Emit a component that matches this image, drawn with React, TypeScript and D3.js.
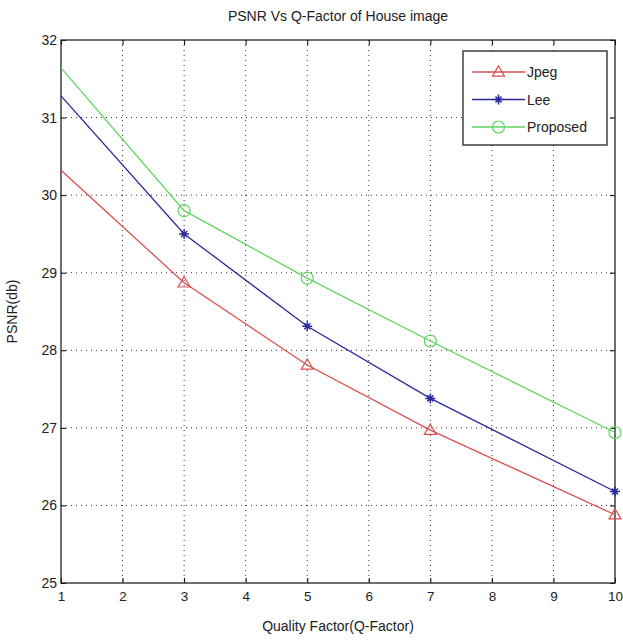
import * as d3 from "d3";
import React, { useRef, useEffect } from "react";

const qFactor = [1, 3, 5, 7, 10];
const jpeg = [30.32, 28.87, 27.81, 26.97, 25.88];
const lee = [31.28, 29.5, 28.31, 27.38, 26.18];
const proposed = [31.64, 29.8, 28.93, 28.12, 26.94];
const seriesNames = ["Jpeg", "Lee", "Proposed"];
const xTicks = [1, 2, 3, 4, 5, 6, 7, 8, 9, 10];
const yTicks = [25, 26, 27, 28, 29, 30, 31, 32];

const colors = ["#d9504f", "#2a2a9a", "#5fd65f"];
const font = "'Liberation Sans', Arial, sans-serif";

export default function App() {
  const ref = useRef(null);
  const width = 623;
  const height = 641;
  const margin = { left: 61, right: 8, top: 40, bottom: 58 };

  useEffect(() => {
    const svg = d3.select(ref.current);
    svg.selectAll("*").remove();

    const x = d3
      .scaleLinear()
      .domain([1, 10])
      .range([margin.left, width - margin.right]);
    const y = d3
      .scaleLinear()
      .domain([25, 32])
      .range([height - margin.bottom, margin.top]);

    const x0 = x.range()[0];
    const x1 = x.range()[1];
    const y0 = y.range()[0];
    const y1 = y.range()[1];

    svg.append("rect").attr("width", width).attr("height", height).attr("fill", "#fff");

    // grid
    const grid = svg.append("g").attr("stroke", "#333").attr("stroke-width", 1).attr("stroke-dasharray", "1,4");
    xTicks.slice(1, -1).forEach((t) => {
      grid.append("line").attr("x1", x(t)).attr("x2", x(t)).attr("y1", y1).attr("y2", y0);
    });
    yTicks.slice(1, -1).forEach((t) => {
      grid.append("line").attr("x1", x0).attr("x2", x1).attr("y1", y(t)).attr("y2", y(t));
    });

    // axes with inward ticks
    const tickLen = 5;
    svg
      .append("g")
      .attr("transform", `translate(0,${y0})`)
      .call(d3.axisBottom(x).tickValues(xTicks).tickFormat(d3.format("d")).tickSizeInner(-tickLen).tickSizeOuter(0).tickPadding(8))
      .call((g) => g.select(".domain").remove())
      .call((g) => g.selectAll("text").attr("font-size", 13.5).attr("font-family", font).attr("fill", "#222"));
    svg
      .append("g")
      .attr("transform", `translate(0,${y1})`)
      .call(d3.axisTop(x).tickValues(xTicks).tickSizeInner(-tickLen).tickSizeOuter(0).tickFormat(() => ""))
      .call((g) => g.select(".domain").remove());
    svg
      .append("g")
      .attr("transform", `translate(${x0},0)`)
      .call(d3.axisLeft(y).tickValues(yTicks).tickFormat(d3.format("d")).tickSizeInner(-tickLen).tickSizeOuter(0).tickPadding(4))
      .call((g) => g.select(".domain").remove())
      .call((g) => g.selectAll("text").attr("font-size", 14).attr("font-family", font).attr("fill", "#222"));
    svg
      .append("g")
      .attr("transform", `translate(${x1},0)`)
      .call(d3.axisRight(y).tickValues(yTicks).tickSizeInner(-tickLen).tickSizeOuter(0).tickFormat(() => ""))
      .call((g) => g.select(".domain").remove());

    svg
      .append("rect")
      .attr("x", x0)
      .attr("y", y1)
      .attr("width", x1 - x0)
      .attr("height", y0 - y1)
      .attr("fill", "none")
      .attr("stroke", "#222")
      .attr("stroke-width", 1.3);

    // lines
    const data = [jpeg, lee, proposed];
    const line = d3
      .line<number>()
      .x((d, i) => x(qFactor[i]))
      .y((d) => y(d));

    const drawMarker = (g, kind, cx, cy, color) => {
      if (kind === 0) {
        const s = 6;
        g.append("path")
          .attr("d", `M${cx},${cy - s}L${cx + s},${cy + s * 0.7}L${cx - s},${cy + s * 0.7}Z`)
          .attr("fill", "none")
          .attr("stroke", color)
          .attr("stroke-width", 1.2);
      } else if (kind === 1) {
        g.append("path")
          .attr("d", `M${cx - 5},${cy}L${cx + 5},${cy}M${cx},${cy - 5}L${cx},${cy + 5}M${cx - 3},${cy - 3}L${cx + 3},${cy + 3}M${cx - 3},${cy + 3}L${cx + 3},${cy - 3}`)
          .attr("stroke", color)
          .attr("stroke-width", 1.5);
      } else {
        g.append("circle")
          .attr("cx", cx)
          .attr("cy", cy)
          .attr("r", 6)
          .attr("fill", "none")
          .attr("stroke", color)
          .attr("stroke-width", 1.2);
      }
    };

    data.forEach((vals, k) => {
      svg
        .append("path")
        .datum(vals)
        .attr("d", line)
        .attr("fill", "none")
        .attr("stroke", colors[k])
        .attr("stroke-width", 1.3);
      const mg = svg.append("g");
      vals.forEach((v, i) => {
        if (i === 0) return;
        drawMarker(mg, k, x(qFactor[i]), y(v), colors[k]);
      });
    });

    // legend
    const lg = svg.append("g");
    const lx = 463;
    const ly = 51;
    lg.append("rect")
      .attr("x", lx)
      .attr("y", ly)
      .attr("width", 144)
      .attr("height", 94)
      .attr("fill", "#fff")
      .attr("stroke", "#222")
      .attr("stroke-width", 1.3);
    seriesNames.forEach((name, k) => {
      const cy = ly + 21 + k * 27.5;
      lg.append("line")
        .attr("x1", lx + 9)
        .attr("x2", lx + 62)
        .attr("y1", cy)
        .attr("y2", cy)
        .attr("stroke", colors[k])
        .attr("stroke-width", 1.3);
      drawMarker(lg, k, lx + 35.5, cy, colors[k]);
      lg.append("text")
        .attr("x", lx + 64)
        .attr("y", cy + 5)
        .attr("font-size", 14)
        .attr("font-family", font)
        .attr("fill", "#222")
        .text(name);
    });

    // titles
    svg
      .append("text")
      .attr("x", (x0 + x1) / 2)
      .attr("y", 21)
      .attr("text-anchor", "middle")
      .attr("font-size", 14)
      .attr("font-family", font)
      .attr("fill", "#222")
      .text("PSNR Vs Q-Factor of House image");
    svg
      .append("text")
      .attr("x", (x0 + x1) / 2)
      .attr("y", 631)
      .attr("text-anchor", "middle")
      .attr("font-size", 14)
      .attr("font-family", font)
      .attr("fill", "#222")
      .text("Quality Factor(Q-Factor)");
    svg
      .append("text")
      .attr("transform", `translate(17,${(y0 + y1) / 2}) rotate(-90)`)
      .attr("text-anchor", "middle")
      .attr("font-size", 14)
      .attr("font-family", font)
      .attr("fill", "#222")
      .text("PSNR(db)");
  }, []);

  return (
    <div style={{ position: "absolute", left: 0, top: 0 }}>
      <svg ref={ref} width={width} height={height}></svg>
    </div>
  );
}
